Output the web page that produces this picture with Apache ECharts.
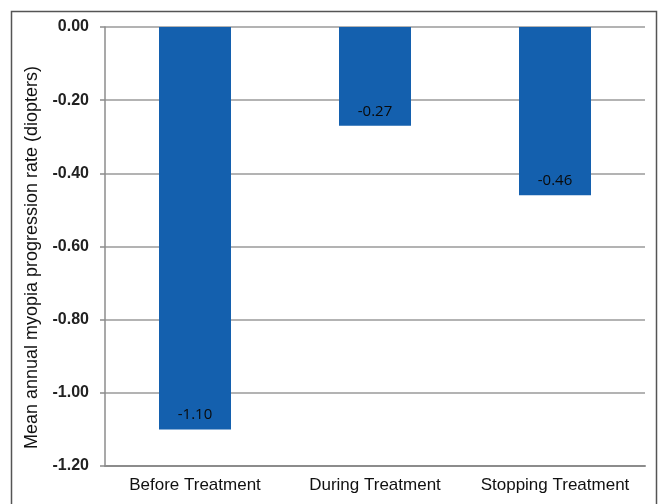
<!DOCTYPE html>
<html>
<head>
<meta charset="utf-8">
<script src="https://cdn.jsdelivr.net/npm/echarts@6/dist/echarts.min.js"></script>
<style>
  html, body { margin: 0; padding: 0; background: #fff; }
  #chart { width: 660px; height: 504px; }
</style>
</head>
<body>
<div id="chart"></div>
<script>
// Mean annual myopia progression rate per treatment phase
const categories = ['Before Treatment', 'During Treatment', 'Stopping Treatment'];
const progressionRates = [-1.10, -0.27, -0.46];
const yTicks = { min: -1.2, max: 0, interval: 0.2 };

const chart = echarts.init(document.getElementById('chart'), null, { renderer: 'canvas' });

chart.setOption({
  backgroundColor: '#ffffff',
  animation: false,
  graphic: [{
    type: 'rect',
    shape: { x: 11.5, y: 11.5, width: 645, height: 520 },
    style: { fill: 'none', stroke: '#555', lineWidth: 1.5 },
    silent: true
  }],
  grid: { left: 105, right: 15, top: 27, bottom: 38, containLabel: false },
  xAxis: {
    type: 'category',
    data: categories,
    position: 'bottom',
    axisLine: { onZero: false, lineStyle: { color: '#8c8c8c', width: 2 } },
    axisTick: { show: false },
    axisLabel: {
      interval: 0,
      hideOverlap: false,
      color: '#111',
      fontFamily: 'Liberation Sans, Arial, sans-serif',
      fontSize: 17,
      margin: 11
    }
  },
  yAxis: {
    type: 'value',
    min: yTicks.min,
    max: yTicks.max,
    interval: yTicks.interval,
    name: 'Mean annual myopia progression rate (diopters)',
    nameLocation: 'middle',
    nameGap: 64,
    nameTextStyle: {
      color: '#111',
      fontFamily: 'Liberation Sans, Arial, sans-serif',
      fontSize: 18,
      padding: [0, 22, 0, 0]
    },
    axisLine: { show: true, lineStyle: { color: '#8c8c8c', width: 1.5 } },
    axisTick: { show: true, length: 5, lineStyle: { color: '#8c8c8c', width: 1.5 } },
    splitLine: { show: true, lineStyle: { color: '#9a9a9a', width: 1.5 } },
    axisLabel: {
      color: '#222',
      fontFamily: 'Liberation Sans, Arial, sans-serif',
      fontSize: 16,
      fontWeight: 'bold',
      margin: 16,
      formatter: v => v.toFixed(2)
    }
  },
  series: [{
    type: 'bar',
    data: progressionRates,
    barWidth: '40%',
    itemStyle: { color: '#1460ae' },
    label: {
      show: true,
      position: 'insideBottom',
      distance: 7,
      color: '#0a0a0a',
      fontFamily: 'Open Sans, Lato, sans-serif',
      fontSize: 15,
      formatter: p => p.value.toFixed(2)
    }
  }]
});
</script>
</body>
</html>
